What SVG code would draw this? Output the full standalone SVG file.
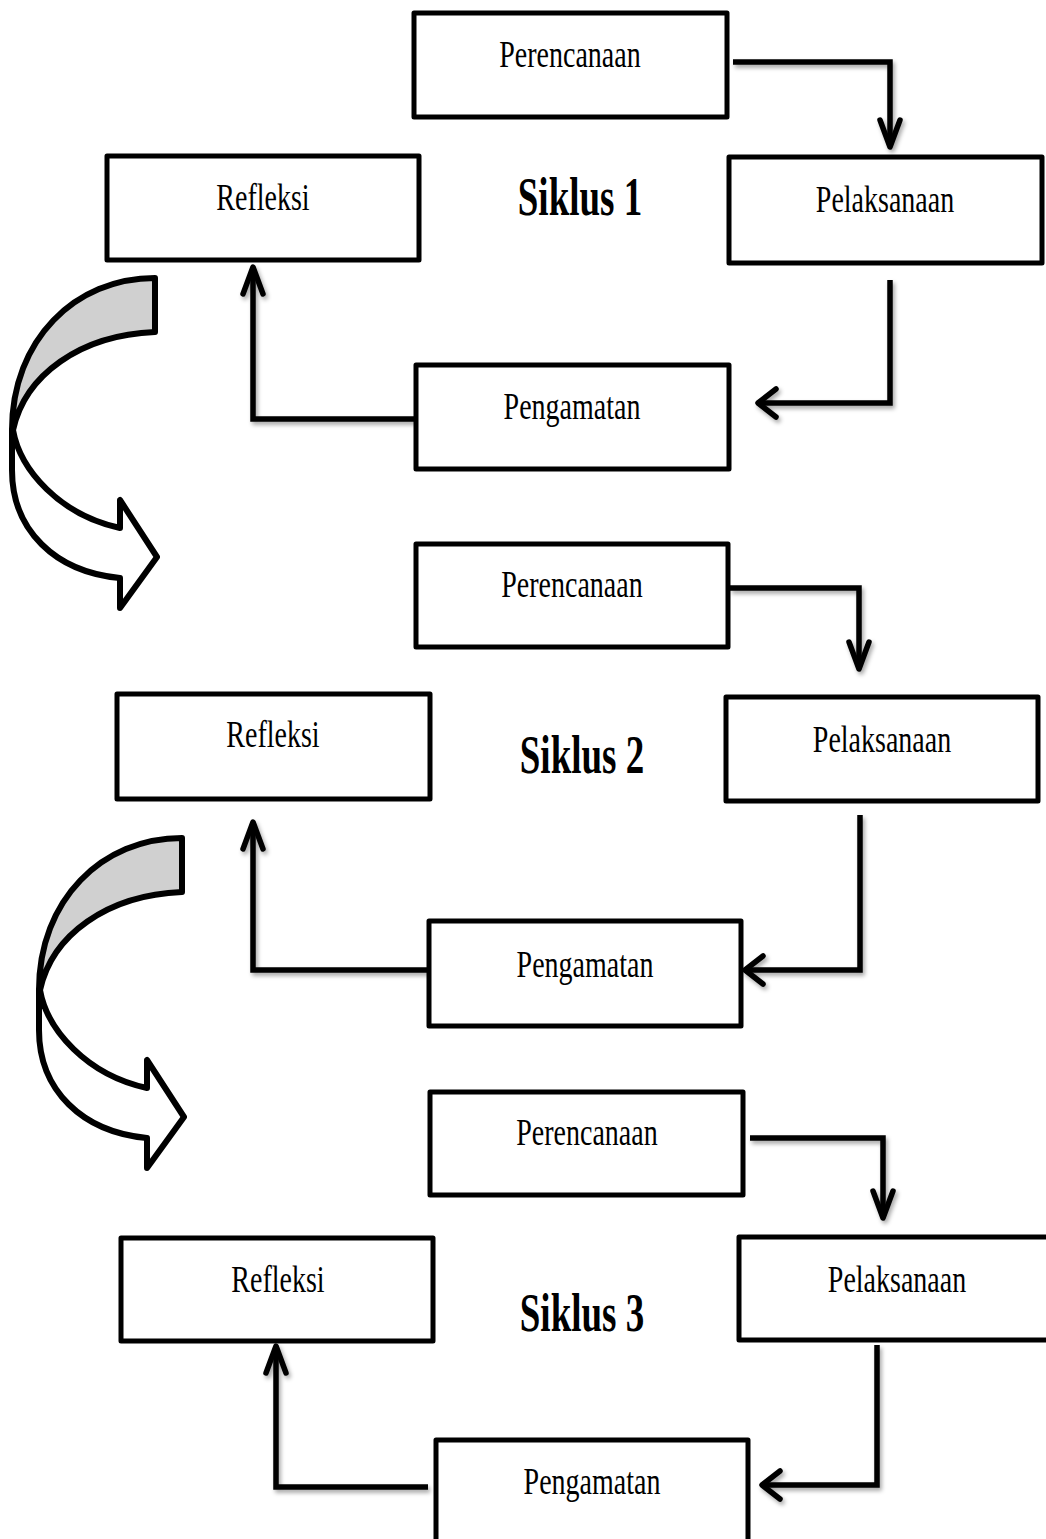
<svg xmlns="http://www.w3.org/2000/svg" width="1046" height="1539" viewBox="0 0 1046 1539">
<defs>
<style>
.box{fill:#fff;stroke:#000;stroke-width:5;stroke-linejoin:round}
.lbl{font-family:"Liberation Serif","Times New Roman",serif;font-size:28px;fill:#000;text-anchor:middle}
.sik{font-family:"Liberation Serif","Times New Roman",serif;font-size:37px;font-weight:bold;fill:#000;text-anchor:middle}
.con{fill:none;stroke:#000;stroke-width:5.5;stroke-linejoin:miter;filter:url(#sh)}
.band{stroke:#000;stroke-width:6;stroke-linejoin:round}
</style>
<filter id="sh" x="-20%" y="-20%" width="140%" height="140%">
<feDropShadow dx="2" dy="3" stdDeviation="2" flood-color="#000" flood-opacity="0.35"/>
</filter>
<marker id="aV" markerUnits="userSpaceOnUse" markerWidth="40" markerHeight="40" refX="0" refY="0" viewBox="-30 -20 40 40" orient="auto" overflow="visible">
<path d="M-27,-10 L0,0 L-27,10" fill="none" stroke="#000" stroke-width="5.5" stroke-linecap="round" stroke-linejoin="round"/>
</marker>
<marker id="aH" markerUnits="userSpaceOnUse" markerWidth="40" markerHeight="40" refX="0" refY="0" viewBox="-30 -20 40 40" orient="auto" overflow="visible">
<path d="M-18,-14 L0,0 L-18,14" fill="none" stroke="#000" stroke-width="5.5" stroke-linecap="round" stroke-linejoin="round"/>
</marker>
<g id="curve">
<path class="band" fill="#d0d0d0" d="M155,278 C75,278 12,340 12,430 L13,430 C25,375 80,335 155,332 Z"/>
<path class="band" fill="#fff" d="M12,430 L12,470 C12,530 55,572 120,578 L120,608 L157,557 L120,500 L120,528 C60,515 20,470 13,430 Z"/>
</g>
</defs>
<rect width="1046" height="1539" fill="#fff"/>

<g id="connectors">
<path class="con" marker-end="url(#aV)" d="M733,62 H890 V147"/>
<path class="con" marker-end="url(#aH)" d="M890,280 V403 H758"/>
<path class="con" marker-end="url(#aV)" d="M416,419 H253 V267"/>
<path class="con" marker-end="url(#aV)" d="M730,588 H859 V669"/>
<path class="con" marker-end="url(#aH)" d="M860,815 V970 H745"/>
<path class="con" marker-end="url(#aV)" d="M429,970 H253 V822"/>
<path class="con" marker-end="url(#aV)" d="M750,1138 H883 V1218"/>
<path class="con" marker-end="url(#aH)" d="M877,1345 V1485 H762"/>
<path class="con" marker-end="url(#aV)" d="M428,1487 H276 V1346"/>
</g>

<g id="cycle-arrow-1"><use href="#curve"/></g>
<g id="cycle-arrow-2"><use href="#curve" transform="translate(27,560)"/></g>

<g id="perencanaan-1"><rect class="box" x="414" y="13" width="313" height="104"/><text class="lbl" transform="translate(570,67) scale(1,1.35)">Perencanaan</text></g>
<g id="refleksi-1"><rect class="box" x="107" y="156" width="312" height="104"/><text class="lbl" transform="translate(263,210) scale(1,1.35)">Refleksi</text></g>
<g id="siklus-1"><text class="sik" transform="translate(580,215) scale(1,1.5)">Siklus 1</text></g>
<g id="pelaksanaan-1"><rect class="box" x="729" y="157" width="313" height="106"/><text class="lbl" transform="translate(885,212) scale(1,1.35)">Pelaksanaan</text></g>
<g id="pengamatan-1"><rect class="box" x="416" y="365" width="313" height="104"/><text class="lbl" transform="translate(572,419) scale(1,1.35)">Pengamatan</text></g>

<g id="perencanaan-2"><rect class="box" x="416" y="544" width="312" height="103"/><text class="lbl" transform="translate(572,597) scale(1,1.35)">Perencanaan</text></g>
<g id="refleksi-2"><rect class="box" x="117" y="694" width="313" height="105"/><text class="lbl" transform="translate(273,747) scale(1,1.35)">Refleksi</text></g>
<g id="siklus-2"><text class="sik" transform="translate(582,773) scale(1,1.5)">Siklus 2</text></g>
<g id="pelaksanaan-2"><rect class="box" x="726" y="697" width="312" height="104"/><text class="lbl" transform="translate(882,752) scale(1,1.35)">Pelaksanaan</text></g>
<g id="pengamatan-2"><rect class="box" x="429" y="921" width="312" height="105"/><text class="lbl" transform="translate(585,977) scale(1,1.35)">Pengamatan</text></g>

<g id="perencanaan-3"><rect class="box" x="430" y="1092" width="313" height="103"/><text class="lbl" transform="translate(587,1145) scale(1,1.35)">Perencanaan</text></g>
<g id="refleksi-3"><rect class="box" x="121" y="1238" width="312" height="103"/><text class="lbl" transform="translate(278,1292) scale(1,1.35)">Refleksi</text></g>
<g id="siklus-3"><text class="sik" transform="translate(582,1331) scale(1,1.5)">Siklus 3</text></g>
<g id="pelaksanaan-3"><rect class="box" x="739" y="1237" width="316" height="103"/><text class="lbl" transform="translate(897,1292) scale(1,1.35)">Pelaksanaan</text></g>
<g id="pengamatan-3"><rect class="box" x="436" y="1440" width="312" height="110"/><text class="lbl" transform="translate(592,1494) scale(1,1.35)">Pengamatan</text></g>
</svg>
